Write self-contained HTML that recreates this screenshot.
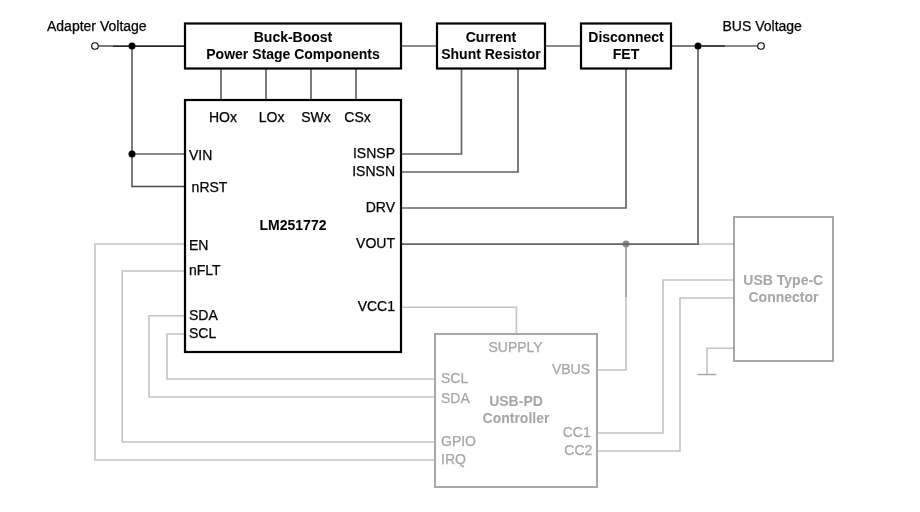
<!DOCTYPE html>
<html><head><meta charset="utf-8">
<style>
html,body{margin:0;padding:0;background:#fff;width:920px;height:512px;overflow:hidden}
svg{display:block;will-change:transform}
text{font-family:"Liberation Sans",sans-serif;font-size:14px}
.b{font-weight:bold;stroke-width:0.05 !important}
.k{fill:#000;stroke:#000;stroke-width:0.25}
.g{fill:#a6a6a6;stroke:#a6a6a6;stroke-width:0.25}
</style></head><body>
<svg width="920" height="512" viewBox="0 0 920 512">
<g fill="none">
<!-- light gray lines (USB-PD) -->
<g stroke="#c3c3c3" stroke-width="1.6">
<polyline points="185,244 95,244 95,460 435,460"/>
<polyline points="185,271 122.2,271 122.2,442 435,442"/>
<polyline points="185,315.8 149,315.8 149,397 435,397"/>
<polyline points="185,334 167,334 167,379 435,379"/>
<polyline points="401,307.2 516.4,307.2 516.4,334"/>
<polyline points="597,370 626,370 626,244"/>
<line x1="698" y1="244" x2="734" y2="244"/>
<polyline points="597,433 663,433 663,280 734,280"/>
<polyline points="597,451 680,451 680,298 734,298"/>
<polyline points="734,348.2 707,348.2 707,374.5"/>
<line x1="697.5" y1="374.5" x2="716.5" y2="374.5" stroke="#a8a8a8" stroke-width="1.5"/>
</g>
<line x1="626" y1="244" x2="626" y2="297" stroke="#a3a3a3" stroke-width="1.6"/>
<circle cx="626" cy="244" r="3.4" fill="#8c8c8c"/>
<!-- gray box borders -->
<g stroke="#a8a8a8" stroke-width="2">
<rect x="435" y="334" width="162" height="153"/>
<rect x="734" y="217" width="99" height="144"/>
</g>
<!-- dark gray lines -->
<g stroke="#646464" stroke-width="1.7">
<line x1="99" y1="46" x2="113" y2="46"/>
<line x1="132" y1="46" x2="132" y2="187.2"/>
<line x1="132" y1="154" x2="185" y2="154"/>
<line x1="132" y1="186.5" x2="185" y2="186.5" stroke="#4a4a4a" stroke-width="1.5"/>
<line x1="401" y1="46" x2="437" y2="46"/>
<line x1="545" y1="46" x2="581" y2="46"/>
<line x1="671" y1="46" x2="697" y2="46"/>
<line x1="725" y1="46" x2="757.5" y2="46"/>
<line x1="221" y1="68" x2="221" y2="100"/>
<line x1="266" y1="68" x2="266" y2="100"/>
<line x1="311" y1="68" x2="311" y2="100"/>
<line x1="356" y1="68" x2="356" y2="100"/>
<polyline points="461.5,68 461.5,154 401,154"/>
<polyline points="518,68 518,172 401,172"/>
<polyline points="626,68 626,208 401,208"/>
<polyline points="698,46 698,244.2 401,244.2"/>
</g>
<g stroke="#2a2a2a" stroke-width="1.75">
<line x1="113" y1="46" x2="185" y2="46"/>
<line x1="697" y1="46" x2="725" y2="46"/>
</g>
<!-- black boxes -->
<g stroke="#000" stroke-width="2.2">
<rect x="185" y="23.5" width="216" height="45"/>
<rect x="437" y="23.5" width="108" height="45"/>
<rect x="581" y="23.5" width="90" height="45"/>
<rect x="185" y="100" width="216" height="252"/>
</g>
<circle cx="95" cy="46" r="3.3" stroke="#000" stroke-width="1.1" fill="#fff"/>
<circle cx="761" cy="46" r="3.3" stroke="#000" stroke-width="1.1" fill="#fff"/>
</g>
<circle cx="132" cy="46" r="3.5" fill="#000"/>
<circle cx="132" cy="154" r="3.5" fill="#000"/>
<circle cx="698" cy="46" r="3.5" fill="#000"/>

<!-- text -->
<g class="k">
<text x="47" y="31">Adapter Voltage</text>
<text x="722.5" y="31">BUS Voltage</text>
<text class="b" x="293" y="42" text-anchor="middle">Buck-Boost</text>
<text class="b" x="293" y="59" text-anchor="middle">Power Stage Components</text>
<text class="b" x="491" y="42" text-anchor="middle">Current</text>
<text class="b" x="491" y="59" text-anchor="middle">Shunt Resistor</text>
<text class="b" x="626" y="42" text-anchor="middle">Disconnect</text>
<text class="b" x="626" y="59" text-anchor="middle">FET</text>
<text x="223" y="122.4" text-anchor="middle">HOx</text>
<text x="271.6" y="122.4" text-anchor="middle">LOx</text>
<text x="316" y="122.4" text-anchor="middle">SWx</text>
<text x="357.5" y="122.4" text-anchor="middle">CSx</text>
<text x="189" y="160">VIN</text>
<text x="191.6" y="192">nRST</text>
<text x="189" y="250">EN</text>
<text x="189" y="275">nFLT</text>
<text x="189" y="320">SDA</text>
<text x="189" y="338">SCL</text>
<text x="395" y="158" text-anchor="end">ISNSP</text>
<text x="395" y="176" text-anchor="end">ISNSN</text>
<text x="395" y="211.9" text-anchor="end">DRV</text>
<text x="395" y="248" text-anchor="end">VOUT</text>
<text x="395" y="311" text-anchor="end">VCC1</text>
<text class="b" x="293" y="230" text-anchor="middle">LM251772</text>
</g>
<g class="g">
<text x="488.5" y="352">SUPPLY</text>
<text x="590" y="373.6" text-anchor="end">VBUS</text>
<text x="441" y="383">SCL</text>
<text x="441" y="403">SDA</text>
<text x="441" y="445.5">GPIO</text>
<text x="441" y="463.5">IRQ</text>
<text x="590.7" y="436.8" text-anchor="end">CC1</text>
<text x="592.3" y="454.5" text-anchor="end">CC2</text>
<text class="b" x="516" y="406.4" text-anchor="middle">USB-PD</text>
<text class="b" x="516" y="423" text-anchor="middle">Controller</text>
<text class="b" x="783.3" y="284.6" text-anchor="middle">USB Type-C</text>
<text class="b" x="783.5" y="302" text-anchor="middle">Connector</text>
</g>
</svg>
</body></html>
